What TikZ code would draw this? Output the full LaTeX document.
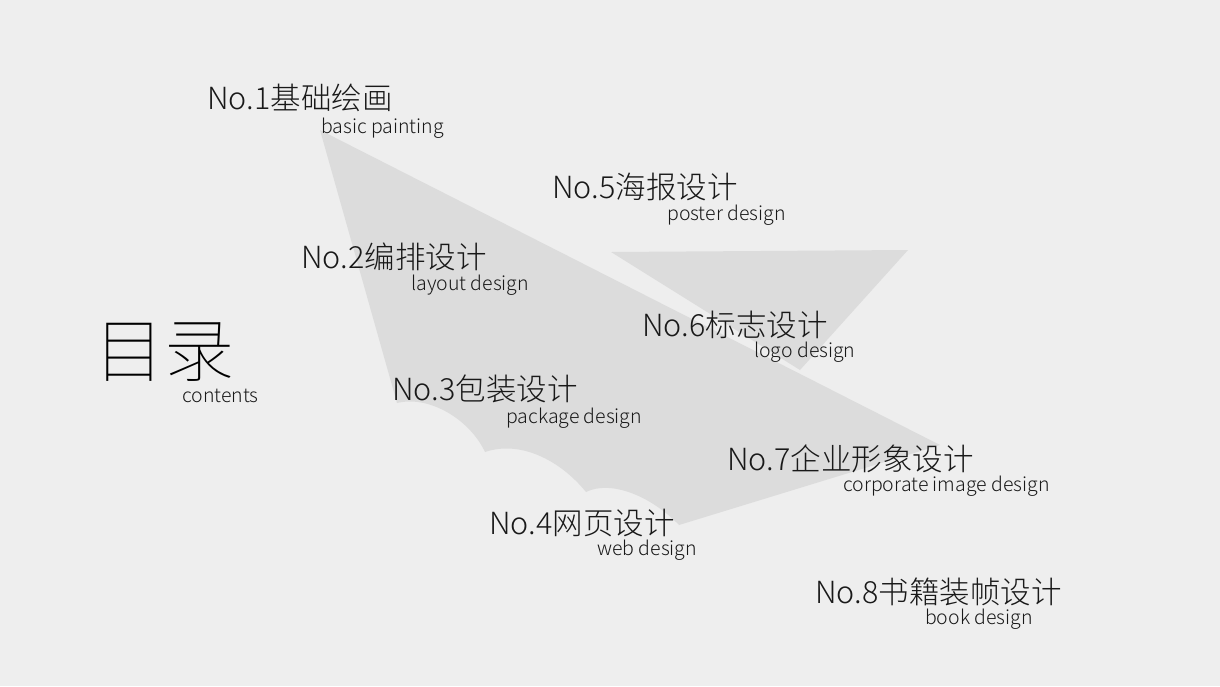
\documentclass[tikz,border=0pt]{standalone}
\usepackage{fontspec}
\setmainfont{Noto Sans CJK SC Light}
\newfontfamily\thinf{Noto Sans CJK SC Thin}
\begin{document}
\begin{tikzpicture}[x=1pt,y=-1pt,
  main/.style={anchor=west,inner sep=0pt,font=\fontsize{30.5}{30.5}\selectfont,text=black!90},
  sub/.style={anchor=west,inner sep=0pt,font=\fontsize{19.5}{19.5}\selectfont,text=black!90}]
\definecolor{bg}{HTML}{EEEEEE}\definecolor{sh}{HTML}{DCDCDC}
\fill[bg] (0,0) rectangle (1220,686);
\useasboundingbox (0,0) rectangle (1220,686);
\fill[sh] (320,130) -- (940,445) -- (679,525) .. controls (650,495) and (610,480) .. (586,492)
  .. controls (560,460) and (520,440) .. (485,452) .. controls (470,420) and (430,395) .. (397,403) -- cycle;
\fill[sh] (611,252) -- (908,250) -- (800,370) -- cycle;
\node[main] (n1) at (207,98) {No.1基础绘画};
\node[sub] (s1) at (321,128) {basic painting};
\node[main] (n5) at (552,187) {No.5海报设计};
\node[sub] (s5) at (667,215) {poster design};
\node[main] (n2) at (301,257) {No.2编排设计};
\node[sub] (s2) at (411,285) {layout design};
\node[main] (n6) at (642,325) {No.6标志设计};
\node[sub] (s6) at (754,352) {logo design};
\node[anchor=west,inner sep=0pt,font=\thinf\fontsize{70}{70}\selectfont] (t) at (94,352) {目录};
\node[sub] (st) at (182,396) {contents};
\node[main] (n3) at (392,389) {No.3包装设计};
\node[sub] (s3) at (506,418) {package design};
\node[main] (n7) at (727,459) {No.7企业形象设计};
\node[sub] (s7) at (843,486) {corporate image design};
\node[main] (n4) at (489,523) {No.4网页设计};
\node[sub] (s4) at (597,550) {web design};
\node[main] (n8) at (815,592) {No.8书籍装帧设计};
\node[sub] (s8) at (925,619) {book design};
\end{tikzpicture}
\end{document}
